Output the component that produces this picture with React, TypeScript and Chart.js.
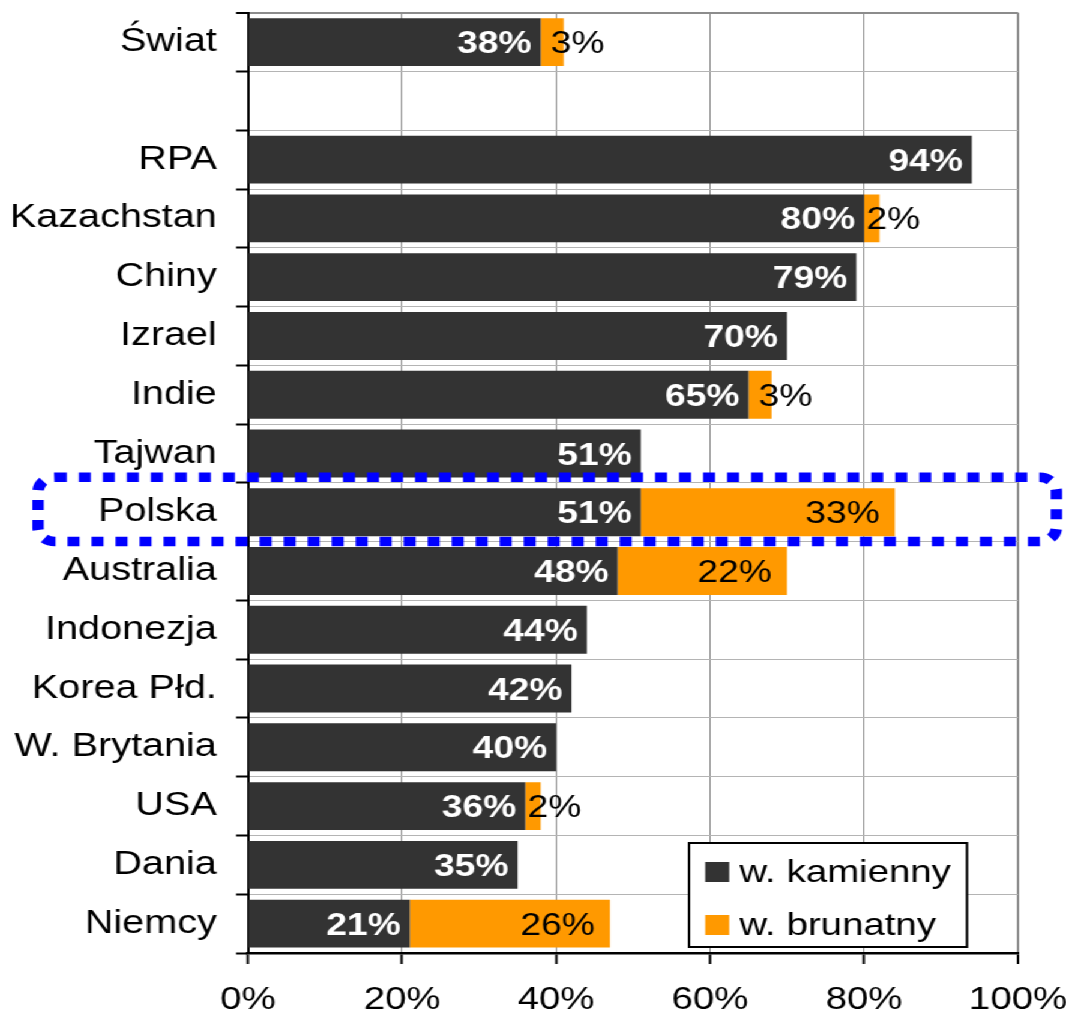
import { useEffect, useRef } from "react";
import { Chart, registerables } from "chart.js";

Chart.register(...registerables);

// Share of coal-fired generation by country (hard coal / lignite), in %
const countries = [
  "Świat",
  "",
  "RPA",
  "Kazachstan",
  "Chiny",
  "Izrael",
  "Indie",
  "Tajwan",
  "Polska",
  "Australia",
  "Indonezja",
  "Korea Płd.",
  "W. Brytania",
  "USA",
  "Dania",
  "Niemcy",
];
const hardCoal = [38, null, 94, 80, 79, 70, 65, 51, 51, 48, 44, 42, 40, 36, 35, 21];
const lignite = [3, null, null, 2, null, null, 3, null, 33, 22, null, null, null, 2, null, 26];
const seriesNames = ["w. kamienny", "w. brunatny"];
const xTickValues = [0, 20, 40, 60, 80, 100];
const highlighted = "Polska";

const FONT = '"Liberation Sans", Arial, Helvetica, sans-serif';
const DARK = "#333333";
const ORANGE = "#FF9900";

// The chart is laid out on a narrower canvas and stretched horizontally.
const BASE_W = 888;
const BASE_H = 1014;
const STRETCH = 1066 / BASE_W;

const valueLabels = {
  id: "valueLabels",
  afterDatasetsDraw(chart: any) {
    const ctx = chart.ctx;
    ctx.save();
    chart.data.datasets.forEach((ds: any, di: number) => {
      const meta = chart.getDatasetMeta(di);
      const isDark = di === 0;
      const size = 31;
      ctx.font = `${isDark ? "bold " : ""}${size}px ${FONT}`;
      ctx.fillStyle = isDark ? "#ffffff" : "#000000";
      ctx.textAlign = "right";
      ctx.textBaseline = "alphabetic";
      const pad = isDark ? 7.5 : 12.5;
      meta.data.forEach((bar: any, i: number) => {
        const v = ds.data[i];
        if (v == null) return;
        const { x, y, base } = bar.getProps(["x", "y", "base"], true);
        const text = `${v}%`;
        const w = ctx.measureText(text).width;
        const barW = x - base;
        const right = w + 2 * pad <= barW ? x - pad : x + 34;
        ctx.fillText(text, right, y + size * 0.358);
      });
    });
    ctx.restore();
  },
};

const overlay = {
  id: "overlay",
  afterDraw(chart: any) {
    const ctx = chart.ctx;
    const area = chart.chartArea;
    const yScale = chart.scales.y;

    // legend box
    const lx = area.right - 42.5;
    const boxL = 574;
    const boxT = area.bottom - 110;
    const boxB = area.bottom - 6;
    ctx.save();
    ctx.fillStyle = "#ffffff";
    ctx.fillRect(boxL, boxT, lx - boxL, boxB - boxT);
    ctx.lineWidth = 2;
    ctx.strokeStyle = "#000000";
    ctx.strokeRect(boxL, boxT, lx - boxL, boxB - boxT);
    const colors = [DARK, ORANGE];
    ctx.font = `32px ${FONT}`;
    ctx.textAlign = "left";
    ctx.textBaseline = "alphabetic";
    seriesNames.forEach((name, k) => {
      const sy = boxT + 19 + k * 53;
      ctx.fillStyle = colors[k];
      ctx.fillRect(boxL + 13.5, sy, 20, 20);
      ctx.fillStyle = "#000";
      ctx.fillText(name, boxL + 42, sy + 20);
    });
    ctx.restore();

    // dotted frame around the highlighted country
    const idx = countries.indexOf(highlighted);
    const rowH = (yScale.bottom - yScale.top) / countries.length;
    const yc = yScale.getPixelForValue(idx);
    const top = yc - rowH / 2 - 5.5;
    const bottom = yc + rowH / 2;
    const left = 31.7;
    const right = 880;
    ctx.save();
    ctx.strokeStyle = "#0000FF";
    ctx.lineWidth = 9.5;
    ctx.setLineDash([10, 10]);
    ctx.beginPath();
    ctx.roundRect(left, top, right - left, bottom - top, 14);
    ctx.stroke();
    ctx.restore();
  },
};

export default function App() {
  const canvasRef = useRef<HTMLCanvasElement | null>(null);

  useEffect(() => {
    if (!canvasRef.current) return;
    const chart = new Chart(canvasRef.current, {
      type: "bar",
      data: {
        labels: countries,
        datasets: [
          {
            label: seriesNames[0],
            data: hardCoal,
            backgroundColor: DARK,
            borderWidth: 0,
            categoryPercentage: 1,
            barPercentage: 0.815,
          },
          {
            label: seriesNames[1],
            data: lignite,
            backgroundColor: ORANGE,
            borderWidth: 0,
            categoryPercentage: 1,
            barPercentage: 0.815,
          },
        ],
      },
      options: {
        indexAxis: "y",
        animation: false,
        responsive: true,
        maintainAspectRatio: false,
        layout: { padding: { top: 12.7, right: 40, bottom: 0, left: 0 } },
        plugins: {
          legend: { display: false },
          tooltip: { enabled: false },
        },
        scales: {
          x: {
            type: "linear",
            stacked: true,
            min: 0,
            max: 100,
            afterBuildTicks: (s: any) => {
              s.ticks = xTickValues.map((v) => ({ value: v }));
            },
            afterFit: (s: any) => {
              s.height = 61;
              s.paddingLeft = 0;
              s.paddingRight = 0;
            },
            ticks: {
              callback: (v: any) => `${v}%`,
              font: { family: FONT, size: 32 },
              color: "#000",
              padding: 17,
              maxRotation: 0,
              autoSkip: false,
            },
            grid: {
              color: "#8c8c8c",
              lineWidth: (c: any) => (c.tick && c.tick.value === 100 ? 2 : 1),
              tickColor: "#000",
              tickWidth: 2,
              tickLength: 11,
            },
            border: { color: "#000", width: 2.5 },
          },
          y: {
            type: "category",
            stacked: true,
            z: 1,
            afterFit: (s: any) => {
              s.width = 206.7;
              s.paddingTop = 0;
              s.paddingBottom = 0;
            },
            ticks: {
              font: { family: FONT, size: 33 },
              color: "#000",
              padding: 16,
              autoSkip: false,
            },
            grid: {
              offset: true,
              color: (c: any) => (c.index === 0 ? "#8c8c8c" : "#b4b4b4"),
              lineWidth: (c: any) => (c.index === 0 ? 2 : 1),
              tickColor: "#000",
              tickWidth: 2,
              tickLength: 10,
            },
            border: { color: "#000", width: 2 },
          },
        },
      },
      plugins: [valueLabels, overlay],
    } as any);
    return () => chart.destroy();
  }, []);

  return (
    <div
      style={{
        position: "absolute",
        left: 0,
        top: 0,
        width: BASE_W,
        height: BASE_H,
        transform: `scaleX(${STRETCH})`,
        transformOrigin: "0 0",
        background: "#fff",
      }}
    >
      <canvas ref={canvasRef} />
    </div>
  );
}
